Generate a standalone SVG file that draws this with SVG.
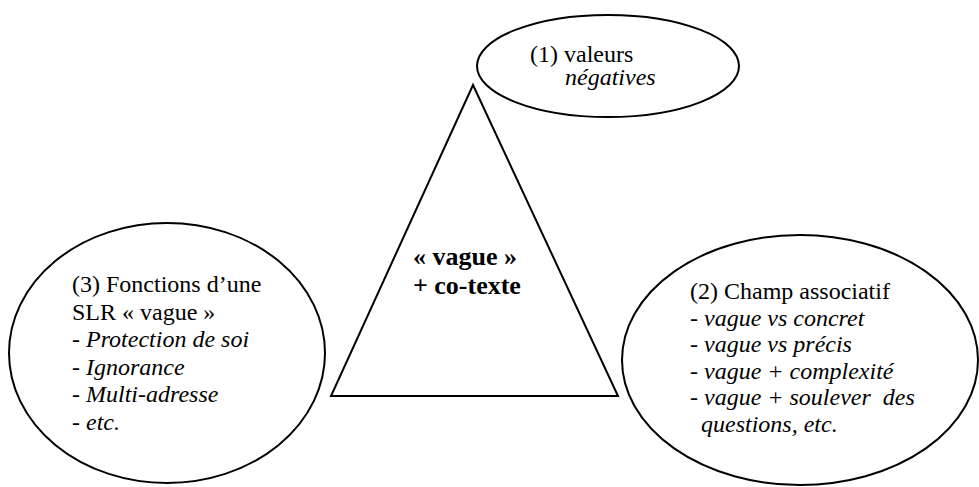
<svg xmlns="http://www.w3.org/2000/svg" width="979" height="487" viewBox="0 0 979 487">
<style>
.shape{fill:none;stroke:#000;stroke-width:2}
text{font-family:"Liberation Serif","Times New Roman",serif;font-size:24px;fill:#000}
.it{font-style:italic}
.b{font-weight:bold;font-size:26px}
</style>
<rect width="979" height="487" fill="#fff"/>
<g id="triangle">
<polygon class="shape" points="473,85 331,396 618,396"/>
<text class="b" x="413" y="265">« vague »</text>
<text class="b" x="413" y="294">+ co-texte</text>
</g>
<g id="node1">
<ellipse class="shape" cx="608" cy="66" rx="131" ry="51"/>
<text x="530" y="62">(1) valeurs</text>
<text class="it" x="565" y="85">négatives</text>
</g>
<g id="node3">
<ellipse class="shape" cx="167" cy="353" rx="158" ry="130"/>
<text x="72" y="292">(3) Fonctions d’une</text>
<text x="72" y="319.6">SLR « vague »</text>
<text x="72" y="347.2">- <tspan class="it">Protection de soi</tspan></text>
<text x="72" y="374.8">- <tspan class="it">Ignorance</tspan></text>
<text x="72" y="402.4">- <tspan class="it">Multi-adresse</tspan></text>
<text x="72" y="430">- <tspan class="it">etc.</tspan></text>
</g>
<g id="node2">
<ellipse class="shape" cx="800" cy="360" rx="178" ry="125"/>
<text x="690" y="299">(2) Champ associatif</text>
<text x="690" y="325.6">- <tspan class="it">vague vs concret</tspan></text>
<text x="690" y="352.2">- <tspan class="it">vague vs précis</tspan></text>
<text x="690" y="378.8">- <tspan class="it">vague + complexité</tspan></text>
<text x="690" y="405.4" xml:space="preserve" style="white-space:pre">- <tspan class="it">vague + soulever  des</tspan></text>
<text class="it" x="701" y="432">questions, etc.</text>
</g>
<g id="connectors"/>
</svg>
